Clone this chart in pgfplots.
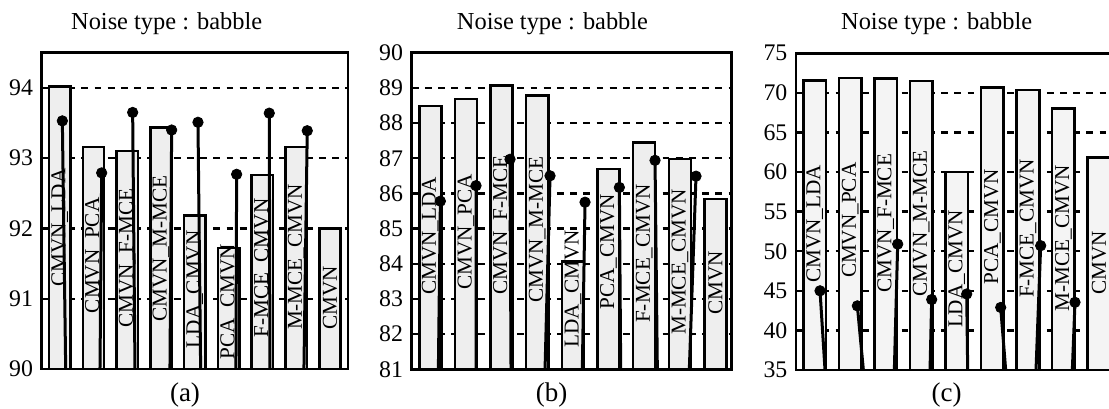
\documentclass[border=0pt]{standalone}
\usepackage{fontspec}
\setmainfont{Liberation Serif}
\usepackage{pgfplots}
\pgfplotsset{compat=1.18}
\pgfplotsset{
  panel/.style={
    scale only axis, anchor=south west,
    axis line style={line width=1.4pt},
    major tick length=0pt,
    xtick=\empty,
    ymajorgrids,
    grid style={line width=1.2pt, dash pattern=on 3.4pt off 3.2pt, black},
    tick label style={font=\fontsize{11.9}{14}\selectfont},
    /pgf/number format/assume math mode=true,
    yticklabel style={xshift=-0.8pt},
    unbounded coords=jump,
  },
  barplot/.style={ybar, bar width=#1, draw=black, line width=1.3pt, fill=gray!13},
  stem/.style={black, line width=1.5pt, no marks},
  dots/.style={only marks, mark=*, mark size=2.6pt, black},
}
\tikzset{lab/.style={rotate=90, anchor=west, inner sep=0pt, font=\fontsize{10.6}{12}\selectfont}}
\begin{document}
\begin{tikzpicture}
\useasboundingbox (0pt,0pt) rectangle (554.5pt,204pt);
\clip (0pt,0pt) rectangle (554.5pt,204pt);
% ---------------- (a)
\begin{axis}[panel, at={(20.85pt,19.5pt)}, width=153.15pt, height=158.15pt,
  xmin=-0.532, xmax=8.533, ymin=90, ymax=94.5, ytick={90,91,92,93,94}]
\addplot[barplot=0.63] coordinates {(0,94.02) (1,93.16) (2,93.10) (3,93.44) (4,92.18) (5,91.72) (6,92.76) (7,93.16) (8,92.00)};
\node[lab] at (axis cs:0,91.17) {CMVN\_LDA};
\node[lab] at (axis cs:1,90.79) {CMVN\_PCA};
\node[lab] at (axis cs:2,90.58) {CMVN\_F-MCE};
\node[lab] at (axis cs:3,90.67) {CMVN\_M-MCE};
\node[lab] at (axis cs:4,90.29) {LDA\_CMVN};
\node[lab] at (axis cs:5,90.13) {PCA\_CMVN};
\node[lab] at (axis cs:6,90.44) {F-MCE\_CMVN};
\node[lab] at (axis cs:7,90.55) {M-MCE\_CMVN};
\node[lab] at (axis cs:8,90.55) {CMVN};
\addplot[stem] coordinates {(0.178,90) (0.079,93.53) (nan,nan) (1.193,90) (1.243,92.79) (nan,nan)
  (2.229,90) (2.160,93.65) (nan,nan) (3.264,90) (3.314,93.40) (nan,nan)
  (4.172,90) (4.093,93.51) (nan,nan) (5.217,90) (5.237,92.77) (nan,nan)
  (6.223,90) (6.203,93.64) (nan,nan) (7.229,90) (7.327,93.39)};
\addplot[dots] coordinates {(0.079,93.53) (1.243,92.79) (2.160,93.65) (3.314,93.40) (4.093,93.51) (5.237,92.77) (6.203,93.64) (7.327,93.39)};
\end{axis}
% ---------------- (b)
\begin{axis}[panel, at={(205.85pt,19.35pt)}, width=160pt, height=158.3pt,
  xmin=-0.519, xmax=8.454, ymin=81, ymax=90, ytick={81,82,...,90}]
\addplot[barplot=0.617] coordinates {(0,88.48) (1,88.68) (2,89.06) (3,88.79) (4,84.06) (5,86.69) (6,87.45) (7,86.98) (8,85.84)};
\node[lab] at (axis cs:0,83.11) {CMVN\_LDA};
\node[lab] at (axis cs:1,83.25) {CMVN\_PCA};
\node[lab] at (axis cs:2,83.11) {CMVN\_F-MCE};
\node[lab] at (axis cs:3,82.88) {CMVN\_M-MCE};
\node[lab] at (axis cs:4,81.60) {LDA\_CMVN};
\node[lab] at (axis cs:5,82.69) {PCA\_CMVN};
\node[lab] at (axis cs:6,82.31) {F-MCE\_CMVN};
\node[lab] at (axis cs:7,81.97) {M-MCE\_CMVN};
\node[lab] at (axis cs:8,82.54) {CMVN};
\addplot[stem] coordinates {(0.229,81) (0.285,85.78) (nan,nan) (1.285,81) (1.285,86.22) (nan,nan)
  (2.266,81) (2.238,86.97) (nan,nan) (3.220,81) (3.360,86.50) (nan,nan)
  (4.266,81) (4.341,85.75) (nan,nan) (5.341,81) (5.304,86.17) (nan,nan)
  (6.369,81) (6.304,86.94) (nan,nan) (7.266,81) (7.453,86.49)};
\addplot[dots] coordinates {(0.285,85.78) (1.285,86.22) (2.238,86.97) (3.360,86.50) (4.341,85.75) (5.304,86.17) (6.304,86.94) (7.453,86.49)};
\end{axis}
% ---------------- (c)
\begin{axis}[panel, at={(398pt,19pt)}, width=160.25pt, height=158.35pt,
  xmin=-0.526, xmax=8.494, ymin=35, ymax=75, ytick={35,40,...,75}]
\addplot[barplot=0.64, fill=gray!9] coordinates {(0,71.6) (1,71.9) (2,71.8) (3,71.5) (4,60.0) (5,70.65) (6,70.35) (7,68.04) (8,61.86)};
\node[lab] at (axis cs:0,45.94) {CMVN\_LDA};
\node[lab] at (axis cs:1,46.57) {CMVN\_PCA};
\node[lab] at (axis cs:2,44.68) {CMVN\_F-MCE};
\node[lab] at (axis cs:3,44.26) {CMVN\_M-MCE};
\node[lab] at (axis cs:4,40.26) {LDA\_CMVN};
\node[lab] at (axis cs:5,45.73) {PCA\_CMVN};
\node[lab] at (axis cs:6,44.05) {F-MCE\_CMVN};
\node[lab] at (axis cs:7,42.36) {M-MCE\_CMVN};
\node[lab] at (axis cs:8,44.47) {CMVN};
\addplot[stem] coordinates {(0.291,35) (0.150,45.0) (nan,nan) (1.370,35) (1.201,43.1) (nan,nan)
  (2.242,35) (2.336,50.9) (nan,nan) (3.246,35) (3.293,43.9) (nan,nan)
  (4.306,35) (4.278,44.6) (nan,nan) (5.375,35) (5.235,42.9) (nan,nan)
  (6.229,35) (6.360,50.7) (nan,nan) (7.251,35) (7.326,43.55)};
\addplot[dots] coordinates {(0.150,45.0) (1.201,43.1) (2.336,50.9) (3.293,43.9) (4.278,44.6) (5.235,42.9) (6.360,50.7) (7.326,43.55)};
\end{axis}
% titles and captions
\begin{scope}[every node/.style={inner sep=0pt, anchor=base}]
\node[font=\fontsize{12.2}{14}\selectfont] at (83.35pt,189.35pt) {Noise type : babble};
\node[font=\fontsize{12.2}{14}\selectfont] at (276.25pt,189.35pt) {Noise type : babble};
\node[font=\fontsize{12.2}{14}\selectfont] at (468.35pt,189.35pt) {Noise type : babble};
\node[font=\fontsize{13.5}{15}\selectfont] at (92.5pt,3.5pt) {(a)};
\node[font=\fontsize{13.5}{15}\selectfont] at (275.85pt,3.5pt) {(b)};
\node[font=\fontsize{13.5}{15}\selectfont] at (473.35pt,3.5pt) {(c)};
\end{scope}
\end{tikzpicture}
\end{document}
